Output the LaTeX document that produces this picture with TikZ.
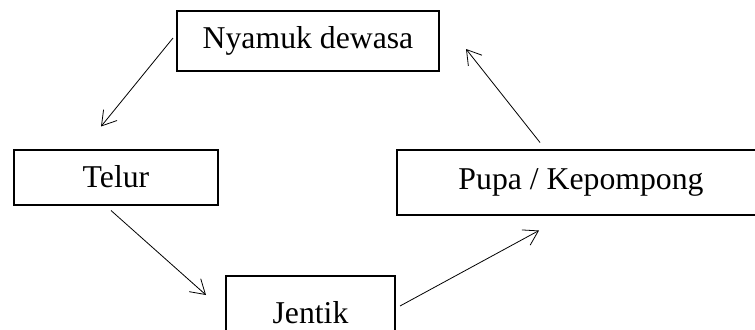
\documentclass[tikz,border=0pt]{standalone}
\usepackage{fontspec}
\setmainfont{Liberation Serif}
\usetikzlibrary{arrows.meta,calc}
\begin{document}
\begin{tikzpicture}[x=0.75pt,y=-0.75pt,
  stage/.style={draw,line width=1.5pt,rectangle,inner sep=0pt,
    font=\fontsize{23.8}{28}\selectfont},
  flow/.style={line width=0.6pt,-{Straight Barb[length=10.5pt,width=13pt,line width=0.6pt]}}]
\useasboundingbox (0,0) rectangle (755,329);
\node[stage,minimum width=196.5pt,minimum height=45pt] (ny) at (308,41) {Nyamuk dewasa};
\node[stage,minimum width=153pt,minimum height=41.25pt] (te) at (116,177) {Telur};
\node[stage,minimum width=276pt,minimum height=48.75pt] (pu) at (581,182) {Pupa / Kepompong};
\node[stage,minimum width=126.75pt,minimum height=55.5pt] (je) at (310.5,313) {Jentik};
\draw[flow] ($(ny.west)+(-3,-3)$) -- ($(te.north)+(-15,-22)$);
\draw[flow] ($(te.south)+(-5,5)$) -- ($(je.west)+(-19,-18)$);
\draw[flow] ($(je.east)+(4,-7)$) -- ($(pu.south)+(-42,15)$);
\draw[flow] ($(pu.north)+(-41,-6)$) -- ($(ny.east)+(26,8)$);
\end{tikzpicture}
\end{document}
